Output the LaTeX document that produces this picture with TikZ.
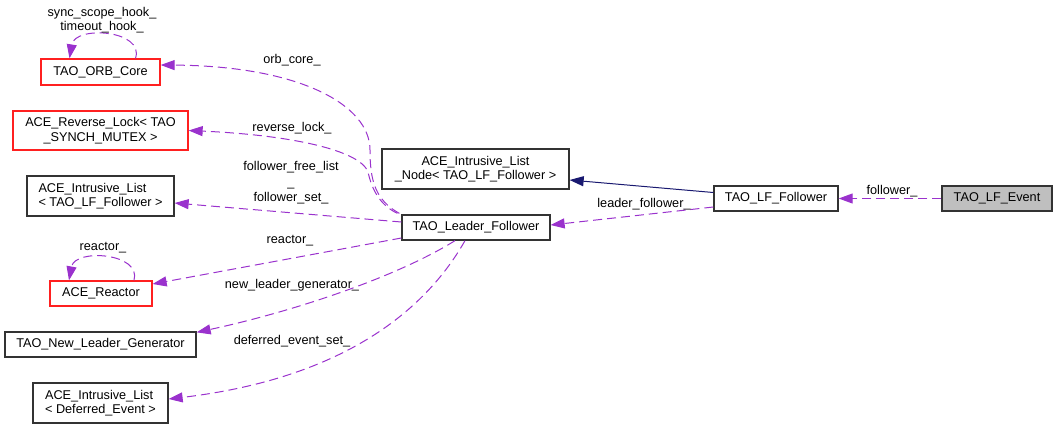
\documentclass[tikz,border=0pt]{standalone}
\usepackage{fontspec}
\setmainfont{Liberation Sans}
\usepackage{tikz}
\usetikzlibrary{arrows.meta}
\definecolor{edgepurple}{HTML}{9A32CD}
\definecolor{inhnavy}{HTML}{191970}
\definecolor{boxred}{HTML}{FF2020}
\definecolor{focusgray}{HTML}{BFBFBF}

\begin{document}
\begin{tikzpicture}[x=1pt,y=-1pt,
	font=\fontsize{12.7}{14.5}\selectfont,
	cls/.style={draw=black!80,line width=1.3pt,rectangle,inner sep=2pt,minimum height=25pt},
	clsred/.style={cls,draw=boxred},
	usage/.style={draw=edgepurple,line width=1pt,dash pattern=on 9pt off 5pt,
		-{Triangle[length=14pt,width=10pt,fill=edgepurple]}},
	inherit/.style={draw=inhnavy,line width=1pt,-{Triangle[length=14pt,width=10pt,fill=inhnavy]}},
	lbl/.style={inner sep=0pt,align=center}]
\useasboundingbox (0,0) rectangle (1057,429);

% classes
\node[clsred] (orbcore) at (100.5,72) [minimum width=119pt,minimum height=26pt] {TAO\_ORB\_Core};
\node[clsred,align=center] (revlock) at (100.5,130.5) [minimum width=175pt,minimum height=39pt] {ACE\_Reverse\_Lock< TAO\\\_SYNCH\_MUTEX >};
\node[cls,align=left] (fflist) at (100.5,196) [minimum width=147pt,minimum height=40pt] {ACE\_Intrusive\_List\\< TAO\_LF\_Follower >};
\node[clsred] (reactor) at (101,293.5) [minimum width=102pt] {ACE\_Reactor};
\node[cls] (newleader) at (100.5,344.5) [minimum width=191pt] {TAO\_New\_Leader\_Generator};
\node[cls,align=left] (deflist) at (100.5,403) [minimum width=135pt,minimum height=40pt] {ACE\_Intrusive\_List\\< Deferred\_Event >};
\node[cls,align=center] (listnode) at (475.5,169) [minimum width=187pt,minimum height=40pt] {ACE\_Intrusive\_List\\\_Node< TAO\_LF\_Follower >};
\node[cls] (leader) at (476,227.5) [minimum width=148pt] {TAO\_Leader\_Follower};
\node[cls] (lffollower) at (776,198.5) [minimum width=124pt] {TAO\_LF\_Follower};
\node[cls,fill=focusgray] (lfevent) at (997,198.5) [minimum width=110pt] {TAO\_LF\_Event};

% edges
\draw[usage] (lfevent.west) -- (lffollower.east);
\node[lbl] (l_follower) at (892,191) {follower\_};

\draw[inherit] ([yshift=6pt]lffollower.west) -- ([yshift=-11pt]listnode.east);

\draw[usage] ([yshift=-8.5pt]lffollower.west) -- ([yshift=2.5pt]leader.east);
\node[lbl] (l_leader) at (644,204) {leader\_follower\_};

\draw[usage] ([xshift=-2pt,yshift=1pt]leader.north west) .. controls (375,200) and (370,180) .. (370,150)
	.. controls (370,105) and (300,66) .. ([yshift=7pt]orbcore.east);
\node[lbl] (l_orbcore) at (292,60) {orb\_core\_};

\draw[usage] ([xshift=-4pt,yshift=1pt]leader.north west) .. controls (380,205) and (372,190) .. (368,172)
	.. controls (360,150) and (290,135) .. (revlock.east);
\node[lbl] (l_revlock) at (292,128) {reverse\_lock\_};

\draw[usage] ([yshift=5.5pt]leader.west) -- ([yshift=-7pt]fflist.east);
\node[lbl,font=\fontsize{12.7}{15.5}\selectfont] (l_fflist) at (291,183) {follower\_free\_list\\\_\\follower\_set\_};

\draw[usage] ([yshift=-10.5pt]leader.west) -- ([yshift=9.5pt]reactor.east);
\node[lbl] (l_reactor) at (290,241) {reactor\_};

\draw[usage] ([xshift=-21pt]leader.south) .. controls (400,275) and (300,310) .. ([yshift=-1pt]newleader.north east);
\node[lbl] (l_newleader) at (292,285) {new\_leader\_generator\_};

\draw[usage] ([xshift=-11pt]leader.south) .. controls (420,320) and (330,380) .. ([yshift=4pt]deflist.east);
\node[lbl] (l_deflist) at (292,341) {deferred\_event\_set\_};

% self loops
\draw[usage] ([xshift=35pt]orbcore.north) .. controls (145,30) and (75,25) .. ([xshift=-31pt]orbcore.north);
\node[lbl] (l_orbloop) at (102,20) {sync\_scope\_hook\_\\timeout\_hook\_};

\draw[usage] ([xshift=33pt]reactor.north) .. controls (142,253) and (75,248) .. ([xshift=-32pt]reactor.north);
\node[lbl] (l_reactorloop) at (103,248) {reactor\_};

\end{tikzpicture}
\end{document}
